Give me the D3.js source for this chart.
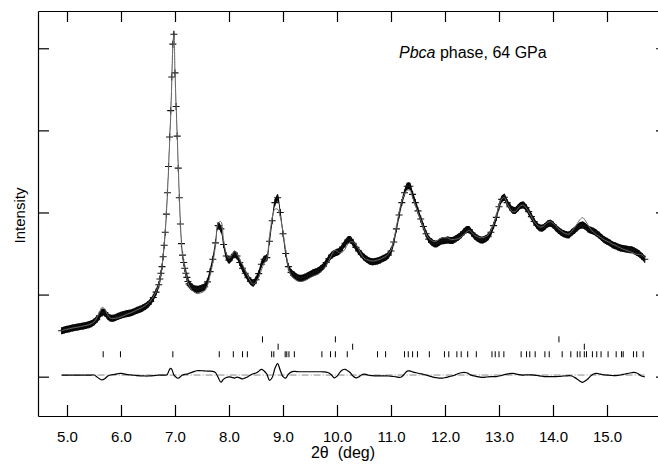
<!DOCTYPE html>
<html>
<head>
<meta charset="utf-8">
<script src="https://cdn.jsdelivr.net/npm/d3@7"></script>
<style>
  html, body { margin: 0; padding: 0; background: #fff; }
  svg { display: block; font-family: "Liberation Sans", Arial, sans-serif; }
</style>
</head>
<body>
<svg id="chart"></svg>
<script>
// 2theta (deg) of the observed points
const twoTheta = [
  4.90,4.95,5.00,5.05,5.10,5.15,5.20,5.25,5.30,5.35,
  5.40,5.45,5.50,5.55,5.60,5.65,5.70,5.75,5.80,5.85,
  5.90,5.95,6.00,6.05,6.10,6.15,6.20,6.25,6.30,6.35,
  6.40,6.45,6.50,6.55,6.60,6.65,
  6.70,6.72,6.74,6.76,6.78,6.80,6.82,6.84,6.86,6.88,
  6.90,6.92,6.94,6.96,6.98,7.00,7.02,7.04,7.06,7.08,
  7.10,7.12,7.14,7.16,7.18,7.20,7.22,7.24,7.26,7.28,7.30,
  7.35,7.40,7.45,7.50,7.55,7.60,7.65,7.70,7.75,7.80,
  7.85,7.90,7.95,8.00,8.05,8.10,8.15,8.20,8.25,8.30,
  8.35,8.40,8.45,8.50,8.55,8.60,8.65,8.70,8.75,8.80,
  8.85,8.90,8.95,9.00,9.05,9.10,9.15,9.20,9.25,9.30,
  9.35,9.40,9.45,9.50,9.55,9.60,9.65,9.70,9.75,9.80,
  9.85,9.90,9.95,10.00,10.05,10.10,10.15,10.20,10.25,10.30,
  10.35,10.40,10.45,10.50,10.55,10.60,10.65,10.70,10.75,10.80,
  10.85,10.90,10.95,11.00,11.05,11.10,11.15,11.20,11.25,11.30,
  11.35,11.40,11.45,11.50,11.55,11.60,11.65,11.70,11.75,11.80,
  11.85,11.90,11.95,12.00,12.05,12.10,12.15,12.20,12.25,12.30,
  12.35,12.40,12.45,12.50,12.55,12.60,12.65,12.70,12.75,12.80,
  12.85,12.90,12.95,13.00,13.05,13.10,13.15,13.20,13.25,13.30,
  13.35,13.40,13.45,13.50,13.55,13.60,13.65,13.70,13.75,13.80,
  13.85,13.90,13.95,14.00,14.05,14.10,14.15,14.20,14.25,14.30,
  14.35,14.40,14.45,14.50,14.55,14.60,14.65,14.70,14.75,14.80,
  14.85,14.90,14.95,15.00,15.05,15.10,15.15,15.20,15.25,15.30,
  15.35,15.40,15.45,15.50,15.55,15.60,15.65,15.70
];

// observed intensity (arb. units, 1000 per y tick)
const yObs = [
  560,570,578,585,592,598,604,610,617,624,
  632,645,665,695,740,785,780,740,715,712,
  722,735,748,757,765,773,782,795,808,820,
  835,855,880,915,965,1030,
  1120,1190,1260,1340,1460,1600,1760,1980,2240,2560,
  2920,3240,3650,4050,4170,3700,3290,2930,2540,2180,
  1860,1620,1480,1390,1320,1260,1210,1160,1130,1110,1095,
  1075,1065,1068,1080,1095,1155,1280,1430,1630,1840,
  1800,1610,1470,1420,1450,1490,1470,1390,1320,1260,
  1205,1160,1140,1180,1255,1370,1430,1450,1650,1900,
  2120,2180,2000,1740,1500,1340,1270,1240,1215,1200,
  1200,1210,1225,1245,1262,1275,1290,1315,1345,1390,
  1440,1480,1500,1515,1535,1580,1625,1665,1668,1625,
  1575,1530,1490,1455,1430,1410,1400,1402,1410,1420,
  1438,1455,1480,1530,1640,1800,1970,2120,2240,2320,
  2320,2220,2120,2020,1920,1830,1740,1675,1640,1618,
  1620,1640,1655,1660,1665,1660,1662,1680,1700,1730,
  1765,1790,1790,1750,1710,1685,1668,1665,1680,1705,
  1760,1840,1940,2070,2160,2185,2120,2070,2030,2025,
  2055,2085,2090,2060,2010,1950,1890,1845,1815,1810,
  1830,1860,1868,1850,1815,1785,1760,1740,1728,1730,
  1760,1785,1815,1840,1848,1830,1800,1785,1770,1750,
  1725,1695,1668,1650,1632,1608,1595,1580,1568,1560,
  1555,1550,1545,1535,1515,1495,1465,1430
];

// difference obs - calc
const yDiff = [
  0,0,0,0,0,0,0,0,0,0,
  0,0,0,-20,-45,-60,-45,-15,0,5,
  10,18,20,15,8,3,0,-3,-8,-10,
  -10,-12,-12,-10,-8,-5,
  0,0,0,0,0,0,0,0,10,40,
  70,82,70,35,0,-15,-28,-36,-37,-32,
  -20,-8,0,5,8,10,12,15,20,25,30,
  42,52,53,52,50,48,47,45,30,-30,
  -88,-50,-30,-22,-28,-37,-25,-35,-48,-35,
  -20,0,15,25,45,70,50,12,-65,-30,
  80,140,55,-20,-37,10,35,45,42,40,
  40,40,40,40,40,40,40,40,38,35,
  25,0,-35,-15,30,62,70,50,25,-15,
  -35,-25,0,12,5,-5,-8,-10,-10,-10,
  -10,-10,-12,-15,-18,-22,-28,-20,15,48,
  50,38,30,22,15,10,0,-10,-20,-28,
  -33,-37,-37,-32,-25,-15,-8,5,18,28,
  32,28,10,-5,-12,-20,-26,-28,-26,-22,
  -20,-20,-20,-12,-5,5,12,18,20,15,
  8,3,0,2,3,2,0,-5,-10,-15,
  -20,-20,-20,-20,-20,-18,-15,-12,-10,-8,
  -12,-30,-50,-75,-89,-70,-45,-10,12,20,
  15,8,2,0,-3,-6,-8,-5,0,8,
  15,22,28,32,25,5,-15,-22
];

// reflection positions (deg), three rows of markers
const reflRow1 = [5.67,5.99,6.96,7.82,8.08,8.25,8.34,8.79,8.83,9.04,9.07,9.11,9.21,
  9.72,9.88,9.97,10.19,10.75,10.90,11.25,11.32,11.40,11.49,11.71,11.99,12.07,12.22,
  12.30,12.42,12.58,12.87,12.93,13.00,13.09,13.41,13.51,13.57,13.67,13.85,13.93,14.17,
  14.33,14.45,14.50,14.58,14.62,14.73,14.81,14.89,15.02,15.17,15.27,15.30,15.49,15.55,15.67];
const reflRow2 = [8.91,10.29,14.58];
const reflRow3 = [8.62,9.97,14.11];

const xTicks = [5,6,7,8,9,10,11,12,13,14,15];
const yTicks = [0,1000,2000,3000,4000];

class RietveldPlot {

  constructor(config) {
    this.config = {
      parent: config.parent,
      width: config.width || 658,
      height: config.height || 464
    };
    this.init();
  }

  init() {
    let self = this;
    self.svg = d3.select(self.config.parent)
      .attr('width', self.config.width)
      .attr('height', self.config.height);

    self.left = 38; self.right = 667; self.top = 11; self.bottom = 416;

    self.xscale = d3.scaleLinear()
      .domain([5 - 29 / 54, 5 + 600 / 54])
      .range([self.left, self.right]);
    self.yscale = d3.scaleLinear()
      .domain([-479, 4454])
      .range([self.bottom, self.top]);

    self.points = twoTheta.map((t, i) => ({ t: t, obs: yObs[i], calc: yObs[i] - yDiff[i], diff: yDiff[i] }));
  }

  render() {
    let self = this;
    const x = self.xscale, y = self.yscale;
    const tick = 11;

    // frame + ticks
    self.svg.append('g')
      .attr('transform', `translate(0,${self.bottom})`)
      .call(d3.axisBottom(x).tickValues(xTicks).tickSizeInner(-tick).tickSizeOuter(0).tickPadding(15).tickFormat(d3.format('.1f')))
      .call(g => g.selectAll('text').attr('font-size', 15).attr('font-family', '"Liberation Sans", Arial, sans-serif').attr('fill', '#000'));
    self.svg.append('g')
      .attr('transform', `translate(0,${self.top})`)
      .call(d3.axisTop(x).tickValues(xTicks).tickSizeInner(-tick).tickSizeOuter(0).tickFormat(''));
    self.svg.append('g')
      .attr('transform', `translate(${self.left},0)`)
      .call(d3.axisLeft(y).tickValues(yTicks).tickSizeInner(-tick).tickSizeOuter(0).tickFormat(''));
    self.svg.append('g')
      .attr('transform', `translate(${self.right},0)`)
      .call(d3.axisRight(y).tickValues(yTicks).tickSizeInner(-tick).tickSizeOuter(0).tickFormat(''));
    self.svg.selectAll('.domain, .tick line').attr('stroke', '#000').attr('stroke-width', 1.2);

    // observed profile: the dense crosses merge into a band of fixed vertical height
    self.svg.append('path')
      .datum(self.points)
      .attr('d', d3.area().curve(d3.curveCatmullRom)
        .x(d => x(d.t)).y0(d => y(d.obs) + 3.5).y1(d => y(d.obs) - 3.5))
      .attr('fill', '#000');

    // observed crosses
    self.svg.append('g')
      .selectAll('path')
      .data(self.points)
      .join('path')
      .attr('d', d => `M${x(d.t) - 3.5},${y(d.obs)}h7M${x(d.t)},${y(d.obs) - 3.5}v7`)
      .attr('stroke', '#111')
      .attr('stroke-width', 1.1)
      .attr('fill', 'none');

    // calculated profile
    self.svg.append('path')
      .datum(self.points)
      .attr('d', d3.line().curve(d3.curveCatmullRom).x(d => x(d.t)).y(d => y(d.calc)))
      .attr('fill', 'none')
      .attr('stroke', '#666')
      .attr('stroke-width', 1);

    // reflection markers
    const rows = [[reflRow1, 273], [reflRow2, 365], [reflRow3, 455]];
    rows.forEach(([vals, level]) => {
      self.svg.append('g')
        .selectAll('line')
        .data(vals)
        .join('line')
        .attr('x1', d => x(d)).attr('x2', d => x(d))
        .attr('y1', y(level) - 3).attr('y2', y(level) + 3)
        .attr('stroke', '#000').attr('stroke-width', 1);
    });

    // difference curve and zero line
    const diffZero = 20;
    self.svg.append('line')
      .attr('x1', x(twoTheta[0])).attr('x2', x(twoTheta[twoTheta.length - 1]))
      .attr('y1', y(diffZero)).attr('y2', y(diffZero))
      .attr('stroke', '#888').attr('stroke-width', 1)
      .attr('stroke-dasharray', '7,2,1,2');
    self.svg.append('path')
      .datum(self.points)
      .attr('d', d3.line().curve(d3.curveCatmullRom).x(d => x(d.t)).y(d => y(diffZero + d.diff)))
      .attr('fill', 'none')
      .attr('stroke', '#000')
      .attr('stroke-width', 1.2);

    // labels
    self.svg.append('text')
      .attr('x', 343).attr('y', 458)
      .attr('text-anchor', 'middle')
      .attr('font-size', 16)
      .style('white-space', 'pre')
      .text('2\u03b8  (deg)');

    self.svg.append('text')
      .attr('transform', `translate(25,${(self.top + self.bottom) / 2 + 2}) rotate(-90)`)
      .attr('text-anchor', 'middle')
      .attr('font-size', 15)
      .text('Intensity');

    const legend = self.svg.append('text')
      .attr('x', 399).attr('y', 58)
      .attr('font-size', 16);
    legend.append('tspan').attr('font-style', 'italic').text('Pbca');
    legend.append('tspan').text(' phase, 64 GPa');
  }
}

let plot = new RietveldPlot({ parent: '#chart', width: 658, height: 464 });
plot.render();
</script>
</body>
</html>
